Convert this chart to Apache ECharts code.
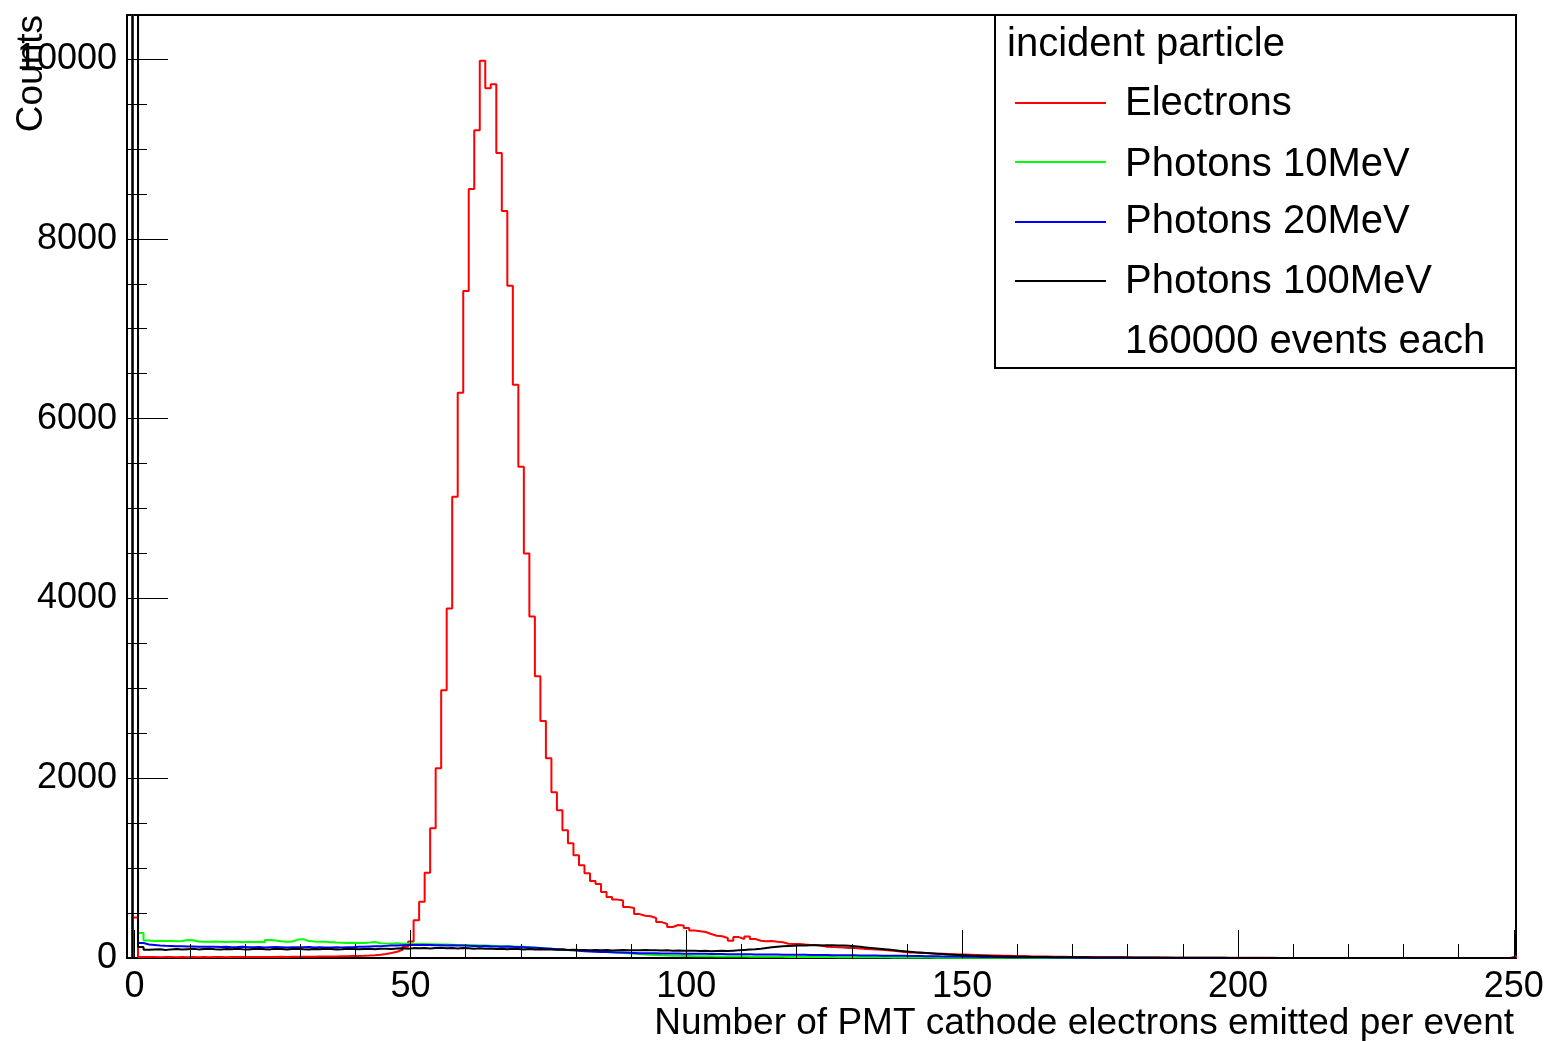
<!DOCTYPE html>
<html>
<head>
<meta charset="utf-8">
<script src="https://cdn.jsdelivr.net/npm/echarts@6/dist/echarts.min.js"></script>
<style>
html, body { margin: 0; padding: 0; background: #fff; }
#main { width: 1547px; height: 1041px; }
</style>
</head>
<body>
<div id="main"></div>
<script>
var chart = echarts.init(document.getElementById('main'));

// bin centres 0..250, bin width 1
var binCount = 251;

// counts per bin, bin 0 first
var electrons = [450,
    12, 10, 11, 9, 10, 11, 9, 10, 9, 10,
    9, 10, 9, 11, 10, 9, 10, 11, 10, 11,
    10, 11, 12, 11, 12, 13, 12, 13, 14, 13,
    14, 15, 16, 16, 17, 18, 19, 20, 21, 22,
    24, 27, 31, 36, 44, 55, 70, 92, 125, 185,
    420, 625, 948, 1446, 2113, 2980, 3892, 5137, 6294, 7428,
    8562, 9218, 9990, 9685, 9730, 8963, 8318, 7484, 6383, 5471,
    4504, 3803, 3136, 2639, 2224, 1846, 1646, 1423, 1279, 1145,
    1034, 945, 856, 823, 734, 678, 650, 640, 567, 556,
    489, 470, 465, 445, 400, 378, 345, 367, 362, 334,
    305, 298, 289, 267, 248, 242, 222, 192, 233, 211,
    240, 211, 192, 186, 190, 180, 176, 158, 155, 157,
    150, 146, 144, 140, 126, 122, 120, 117, 112, 110,
    107, 101, 98, 95, 92, 86, 80, 75, 66, 62,
    60, 57, 55, 50, 48, 46, 44, 42, 40, 38,
    36, 34, 32, 30, 28, 27, 25, 24, 22, 21,
    20, 19, 18, 17, 16, 15, 14, 13, 12, 12,
    11, 10, 10, 9, 9, 8, 8, 7, 7, 7,
    6, 6, 6, 5, 5, 5, 5, 4, 4, 4,
    4, 4, 3, 3, 3, 3, 3, 3, 2, 2,
    2, 2, 2, 2, 2, 2, 1, 1, 1, 1,
    1, 1, 1, 1, 1, 1, 1, 1, 1, 1,
    1, 1, 1, 1, 1, 0, 0, 0, 0, 0,
    0, 0, 0, 0, 0, 0, 0, 0, 0, 0,
    0, 0, 0, 0, 0, 0, 0, 0, 0, 20];

var photons10 = [25000,
    278, 195, 190, 192, 188, 190, 186, 190, 200, 198,
    184, 182, 180, 185, 180, 178, 182, 180, 176, 180,
    178, 182, 176, 200, 196, 186, 180, 184, 205, 210,
    188, 184, 182, 180, 176, 172, 170, 168, 170, 166,
    168, 172, 178, 165, 162, 160, 164, 160, 158, 156,
    155, 156, 154, 152, 150, 150, 148, 146, 145, 144,
    142, 140, 138, 136, 134, 132, 130, 128, 126, 124,
    120, 116, 112, 107, 102, 98, 94, 90, 87, 84,
    80, 77, 74, 70, 67, 63, 60, 56, 52, 48,
    44, 40, 36, 33, 30, 28, 26, 24, 22, 21,
    20, 20, 19, 19, 18, 18, 17, 17, 16, 16,
    15, 15, 14, 14, 14, 13, 13, 12, 12, 12,
    11, 11, 11, 10, 10, 10, 9, 9, 9, 8,
    8, 8, 7, 7, 7, 7, 6, 6, 6, 6,
    5, 5, 5, 5, 4, 4, 4, 4, 4, 3,
    3, 3, 3, 3, 3, 2, 2, 2, 2, 2,
    2, 2, 2, 1, 1, 1, 1, 1, 1, 1,
    1, 1, 1, 1, 1, 1, 1, 1, 0, 0,
    0, 0, 0, 0, 0, 0, 0, 0, 0, 0,
    0, 0, 0, 0, 0, 0, 0, 0, 0, 0,
    0, 0, 0, 0, 0, 0, 0, 0, 0, 0,
    0, 0, 0, 0, 0, 0, 0, 0, 0, 0,
    0, 0, 0, 0, 0, 0, 0, 0, 0, 0,
    0, 0, 0, 0, 0, 0, 0, 0, 0, 0,
    0, 0, 0, 0, 0, 0, 0, 0, 0, 0];

var photons20 = [25000,
    167, 150, 145, 140, 136, 134, 132, 130, 128, 127,
    126, 125, 124, 125, 122, 124, 120, 122, 125, 121,
    120, 122, 118, 120, 122, 120, 118, 121, 120, 119,
    122, 118, 120, 116, 118, 120, 117, 119, 121, 124,
    126, 128, 130, 132, 135, 138, 140, 142, 144, 145,
    145, 144, 146, 142, 143, 140, 142, 138, 140, 136,
    135, 132, 134, 130, 128, 126, 128, 124, 122, 120,
    117, 114, 110, 106, 102, 98, 94, 90, 85, 80,
    76, 72, 70, 68, 66, 64, 62, 60, 58, 56,
    54, 53, 52, 52, 51, 50, 50, 49, 48, 48,
    47, 46, 46, 45, 45, 44, 43, 43, 42, 42,
    41, 40, 40, 39, 38, 38, 37, 36, 36, 35,
    35, 34, 34, 33, 33, 32, 32, 31, 30, 30,
    29, 28, 28, 27, 26, 26, 25, 24, 24, 23,
    22, 21, 20, 20, 19, 18, 17, 16, 16, 15,
    14, 13, 12, 12, 11, 10, 10, 9, 9, 8,
    8, 7, 7, 6, 6, 6, 5, 5, 5, 4,
    4, 4, 4, 3, 3, 3, 3, 3, 2, 2,
    2, 2, 2, 2, 2, 1, 1, 1, 1, 1,
    1, 1, 1, 1, 1, 1, 1, 0, 0, 0,
    0, 0, 0, 0, 0, 0, 0, 0, 0, 0,
    0, 0, 0, 0, 0, 0, 0, 0, 0, 0,
    0, 0, 0, 0, 0, 0, 0, 0, 0, 0,
    0, 0, 0, 0, 0, 0, 0, 0, 0, 0,
    0, 0, 0, 0, 0, 0, 0, 0, 0, 0];

var photons100 = [25000,
    122, 92, 95, 98, 90, 96, 100, 94, 98, 102,
    96, 100, 104, 98, 94, 100, 97, 102, 98, 96,
    100, 104, 98, 96, 102, 99, 95, 100, 104, 98,
    96, 100, 98, 104, 100, 96, 98, 102, 100, 97,
    100, 103, 98, 102, 104, 100, 106, 108, 104, 110,
    108, 112, 106, 110, 114, 108, 112, 106, 110, 108,
    104, 108, 102, 106, 100, 104, 98, 102, 100, 96,
    100, 96, 98, 94, 96, 92, 94, 90, 92, 88,
    90, 86, 88, 86, 88, 84, 86, 88, 85, 87,
    86, 88, 85, 87, 84, 86, 82, 84, 80, 82,
    80, 78, 80, 76, 78, 80, 78, 82, 86, 90,
    94, 98, 104, 112, 120, 126, 130, 134, 136, 138,
    140, 141, 142, 140, 142, 141, 139, 138, 136, 130,
    124, 118, 112, 106, 100, 94, 88, 82, 76, 70,
    64, 60, 56, 52, 48, 44, 40, 37, 34, 31,
    28, 26, 24, 22, 20, 18, 17, 16, 15, 14,
    13, 12, 11, 10, 10, 9, 9, 8, 8, 7,
    7, 7, 6, 6, 6, 5, 5, 5, 5, 4,
    4, 4, 4, 4, 3, 3, 3, 3, 3, 3,
    2, 2, 2, 2, 2, 2, 2, 1, 1, 1,
    1, 1, 1, 1, 1, 1, 1, 1, 1, 1,
    1, 1, 0, 0, 0, 0, 0, 0, 0, 0,
    0, 0, 0, 0, 0, 0, 0, 0, 0, 0,
    0, 0, 0, 0, 0, 0, 0, 0, 0, 0,
    0, 0, 0, 0, 0, 0, 0, 0, 0, 0];

var seriesNames = ['Electrons', 'Photons 10MeV', 'Photons 20MeV', 'Photons 100MeV'];
var seriesColors = ['#ff0000', '#00ff00', '#0000ff', '#000000'];
var seriesCounts = [electrons, photons10, photons20, photons100];
var xTicks = [0, 50, 100, 150, 200, 250];

// histogram outline as step line through the low edges of the bins
var toSteps = function (counts) {
    var pts = [[-0.5, 0]];
    for (var i = 0; i < binCount; i++) {
        pts.push([i - 0.5, counts[i]]);
    }
    pts.push([binCount - 0.5, counts[binCount - 1]]);
    pts.push([binCount - 0.5, 0]);
    return pts;
};

var font = '"Liberation Sans", Arial, Helvetica, sans-serif';

var series = [];
for (var s = 0; s < seriesNames.length; s++) {
    series.push({
        name: seriesNames[s],
        type: 'line',
        xAxisIndex: 0,
        yAxisIndex: 0,
        step: 'end',
        symbol: 'none',
        clip: true,
        data: toSteps(seriesCounts[s]),
        lineStyle: { color: seriesColors[s], width: 2 },
        itemStyle: { color: seriesColors[s] },
        z: 2 + s
    });
}

// legend box drawn by hand, ROOT style
var legendRows = [
    { text: 'Electrons', y: 104, line: 103, color: seriesColors[0] },
    { text: 'Photons 10MeV', y: 165, line: 162, color: seriesColors[1] },
    { text: 'Photons 20MeV', y: 222, line: 222, color: seriesColors[2] },
    { text: 'Photons 100MeV', y: 282, line: 281, color: seriesColors[3] },
    { text: '160000 events each', y: 342, line: null }
];
var legendEls = [
    { type: 'rect', shape: { x: 995, y: 15, width: 521, height: 353 },
      style: { fill: '#fff', stroke: '#000', lineWidth: 2 }, z: 100 },
    { type: 'text', x: 1007, y: 45, z: 101,
      style: { text: 'incident particle', font: '40px ' + font, fill: '#000', verticalAlign: 'middle' } }
];
legendRows.forEach(function (r) {
    if (r.line !== null) {
        legendEls.push({ type: 'line', z: 101, shape: { x1: 1015, y1: r.line, x2: 1106, y2: r.line },
            style: { stroke: r.color, lineWidth: 2 } });
    }
    legendEls.push({ type: 'text', x: 1125, y: r.y, z: 101,
        style: { text: r.text, font: '40px ' + font, fill: '#000', verticalAlign: 'middle' } });
});

var option = {
    backgroundColor: '#fff',
    animation: false,
    grid: [
        // data frame
        { left: 127, right: 31, top: 15, bottom: 83, show: true, borderColor: '#000', borderWidth: 2, backgroundColor: 'transparent' },
        // x axis ticks 0..250
        { left: 134.6, right: 33.2, top: 15, bottom: 83 },
        // y axis ticks 0..10000
        { left: 127, right: 31, top: 59, bottom: 83 }
    ],
    xAxis: [
        { gridIndex: 0, type: 'value', min: -1.5, max: 250.5, show: false },
        {
            gridIndex: 1, type: 'value', min: 0, max: 250, interval: 50, z: 10,
            axisLine: { show: false },
            axisTick: { show: true, inside: true, length: 28, lineStyle: { color: '#000', width: 1 } },
            minorTick: { show: true, splitNumber: 5, length: 14, lineStyle: { color: '#000', width: 1 } },
            splitLine: { show: false },
            axisLabel: {
                color: '#000', fontSize: 36, fontFamily: font, margin: 11,
                showMinLabel: true, showMaxLabel: true,
                formatter: function (v) { return xTicks.indexOf(v) >= 0 ? String(v) : ''; }
            }
        },
        { gridIndex: 2, type: 'value', min: 0, max: 1, show: false }
    ],
    yAxis: [
        { gridIndex: 0, type: 'value', min: 0, max: 10500, show: false },
        { gridIndex: 1, type: 'value', min: 0, max: 1, show: false },
        {
            gridIndex: 2, type: 'value', min: 0, max: 10000, interval: 2000, z: 10,
            axisLine: { show: false },
            axisTick: { show: true, inside: true, length: 41, lineStyle: { color: '#000', width: 1 } },
            minorTick: { show: true, splitNumber: 4, length: 20, lineStyle: { color: '#000', width: 1 } },
            splitLine: { show: false },
            axisLabel: {
                color: '#000', fontSize: 36, fontFamily: font, margin: 10,
                showMinLabel: true, showMaxLabel: true,
                formatter: function (v) { return String(v); }
            }
        }
    ],
    graphic: legendEls.concat([
        { type: 'text', x: 32, y: 15, rotation: Math.PI / 2, z: 50,
          style: { text: 'Counts', font: '37px ' + font, fill: '#000', align: 'right', verticalAlign: 'middle' } },
        { type: 'text', x: 1514, y: 1024, z: 50,
          style: { text: 'Number of PMT cathode electrons emitted per event', font: '37px ' + font, fill: '#000', align: 'right', verticalAlign: 'middle' } }
    ]),
    series: series
};
chart.setOption(option);
</script>
</body>
</html>
